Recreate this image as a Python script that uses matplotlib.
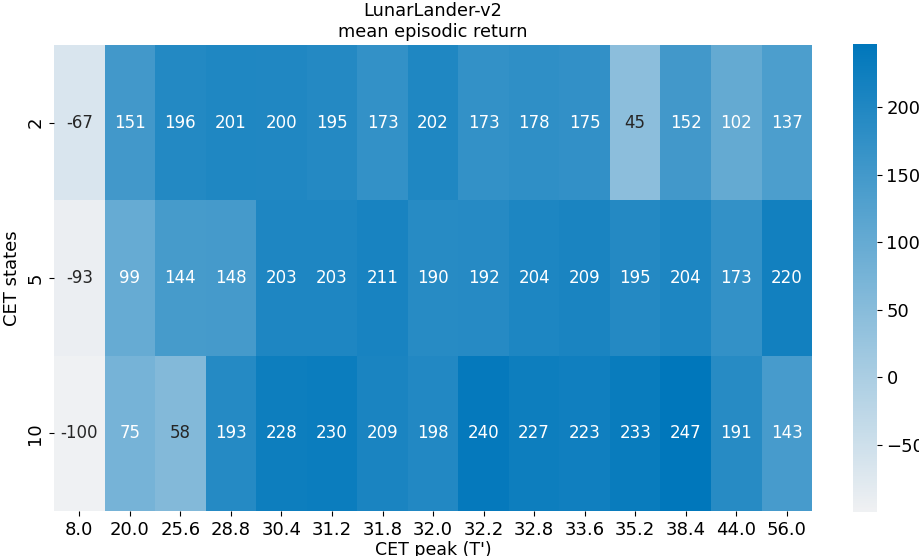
import numpy as np
import pandas as pd
import seaborn as sns
import matplotlib
matplotlib.use("Agg")
import matplotlib.pyplot as plt

cet_peaks = ["8.0", "20.0", "25.6", "28.8", "30.4", "31.2", "31.8", "32.0",
             "32.2", "32.8", "33.6", "35.2", "38.4", "44.0", "56.0"]
cet_states = ["2", "5", "10"]

ret_2 = [-67, 151, 196, 201, 200, 195, 173, 202, 173, 178, 175, 45, 152, 102, 137]
ret_5 = [-93, 99, 144, 148, 203, 203, 211, 190, 192, 204, 209, 195, 204, 173, 220]
ret_10 = [-100, 75, 58, 193, 228, 230, 209, 198, 240, 227, 223, 233, 247, 191, 143]

cbar_ticks = [-50, 0, 50, 100, 150, 200]

df = pd.DataFrame([ret_2, ret_5, ret_10], index=cet_states, columns=cet_peaks)

cmap = sns.light_palette("#0077bb", as_cmap=True)

fig = plt.figure(figsize=(9.2, 5.56), dpi=100)
ax = fig.add_axes([0.0587, 0.081, 0.824, 0.838])
cax = fig.add_axes([0.927, 0.079, 0.026, 0.842])
sns.heatmap(df, annot=True, fmt=".0f", cmap=cmap, ax=ax, cbar_ax=cax,
            annot_kws={"fontsize": 12},
            cbar_kws={"ticks": cbar_ticks})

# dark text only on the palest cells
for txt, val in zip(ax.texts, df.values.ravel()):
    txt.set_color("white" if val > 70 else "#262626")

ax.set_title("LunarLander-v2\nmean episodic return", fontsize=12.8)
ax.set_xlabel("CET peak (T')", fontsize=12.5, labelpad=2)
ax.set_ylabel("CET states", fontsize=13)
ax.tick_params(axis="both", labelsize=13)
plt.setp(ax.get_xticklabels(), rotation=0)
plt.setp(ax.get_yticklabels(), rotation=90, va="center")
cax.tick_params(labelsize=13)
for sp in cax.spines.values():
    sp.set_visible(False)

plt.savefig("out.png", dpi=100)
